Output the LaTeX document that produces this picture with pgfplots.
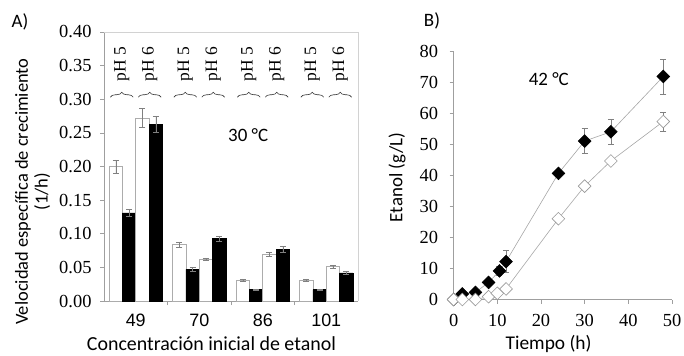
\documentclass[border=0pt]{standalone}
\usepackage{fontspec}
\setmainfont{Liberation Serif}
\newfontfamily\calib{Carlito}
\newfontfamily\arial{Liberation Sans}
\usepackage{pgfplots}
\pgfplotsset{compat=1.18}
\usetikzlibrary{decorations.pathreplacing}
\begin{document}
\begin{tikzpicture}[x=1bp,y=1bp]
\useasboundingbox (0,0) rectangle (684,355);
\node[font=\calib\fontsize{19}{19}\selectfont] at (20,333) {A)};
\node[font=\calib\fontsize{19}{19}\selectfont] at (432,334) {B)};
% ---------------- Panel A ----------------
\begin{axis}[
  at={(104bp,54bp)}, anchor=south west,
  scale only axis, width=254bp, height=269bp,
  xmin=0, xmax=4, ymin=0, ymax=0.40,
  clip=false,
  axis x line*=bottom, axis y line*=left,
  axis line style={gray!75, line width=0.6pt},
  tick align=outside,
  ytick={0,0.05,0.10,0.15,0.20,0.25,0.30,0.35,0.40},
  yticklabel style={font=\fontsize{18.5}{18.5}\selectfont, xshift=-5bp, /pgf/number format/fixed, /pgf/number format/fixed zerofill, /pgf/number format/precision=2, /pgf/number format/assume math mode=true},
  xtick={0.5,1.5,2.5,3.5},
  xticklabels={49,70,86,101},
  xticklabel style={font=\arial\fontsize{18}{18}\selectfont, yshift=-5bp},
  major x tick style={draw=none},
  minor xtick={1,2,3},
  minor tick length=4bp,
  major tick length=4bp,
  tick style={gray!75, line width=0.6pt},
  xlabel={Concentración inicial de etanol},
  xlabel style={font=\calib\fontsize{20}{20}\selectfont, at={(axis description cs:0.423,-0.158)}, anchor=center},
  ylabel={Velocidad específica de crecimiento\\(1/h)},
  ylabel style={align=center, font=\calib\fontsize{18.5}{20}\selectfont, at={(axis description cs:-0.281,0.407)}, anchor=center},
  error bars/y dir=both, error bars/y explicit,
  error bars/error bar style={gray, line width=0.5pt},
  error bars/error mark options={gray, rotate=90, mark size=3bp, line width=0.5pt},
]
\draw[gray!35, line width=0.6pt] (rel axis cs:0,1) -- (rel axis cs:1,1) -- (rel axis cs:1,0);
% white, pH 5
\addplot[ybar, bar width=0.21, bar shift=0pt, fill=white, draw=gray!65, line width=0.8pt]
 coordinates {(0.185,0.200) +- (0,0.010) (1.185,0.084) +- (0,0.004) (2.185,0.031) +- (0,0.002) (3.185,0.031) +- (0,0.002)};
% black, pH 5
\addplot[ybar, bar width=0.21, bar shift=0pt, fill=black, draw=black]
 coordinates {(0.395,0.131) +- (0,0.005) (1.395,0.047) +- (0,0.003) (2.395,0.017) +- (0,0.001) (3.395,0.017) +- (0,0.001)};
% white, pH 6
\addplot[ybar, bar width=0.21, bar shift=0pt, fill=white, draw=gray!65, line width=0.8pt]
 coordinates {(0.605,0.272) +- (0,0.014) (1.605,0.062) +- (0,0.002) (2.605,0.070) +- (0,0.003) (3.605,0.051) +- (0,0.002)};
% black, pH 6
\addplot[ybar, bar width=0.21, bar shift=0pt, fill=black, draw=black]
 coordinates {(0.815,0.263) +- (0,0.012) (1.815,0.093) +- (0,0.004) (2.815,0.077) +- (0,0.004) (3.815,0.042) +- (0,0.002)};
\pgfplotsinvokeforeach{0,1,2,3}{
  \draw[decorate, decoration={brace, amplitude=5bp}, black!80, line width=0.6pt]
    (axis cs:#1+0.10,0.303) -- (axis cs:#1+0.46,0.303);
  \draw[decorate, decoration={brace, amplitude=5bp}, black!80, line width=0.6pt]
    (axis cs:#1+0.54,0.303) -- (axis cs:#1+0.90,0.303);
  \node[rotate=90, font=\fontsize{17.5}{17.5}\selectfont] at (axis cs:#1+0.28,0.352) {pH 5};
  \node[rotate=90, font=\fontsize{17.5}{17.5}\selectfont] at (axis cs:#1+0.72,0.352) {pH 6};
}
\node[font=\calib\fontsize{19}{19}\selectfont] at (axis cs:2.27,0.247) {30 °C};
\end{axis}
% ---------------- Panel B ----------------
\begin{axis}[
  at={(453.6bp,55.5bp)}, anchor=south west,
  scale only axis, width=218.4bp, height=248.5bp,
  xmin=0, xmax=50, ymin=0, ymax=80,
  clip=false,
  axis x line*=bottom, axis y line*=left,
  axis line style={gray!75, line width=0.6pt},
  tick align=outside,
  major tick length=4bp,
  tick style={gray!75, line width=0.6pt},
  xtick={0,10,20,30,40,50},
  ytick={0,10,20,30,40,50,60,70,80},
  ticklabel style={font=\fontsize{18.5}{18.5}\selectfont, /pgf/number format/assume math mode=true},
  xticklabel style={yshift=-7bp},
  yticklabel style={xshift=-8bp},
  xlabel={Tiempo (h)},
  xlabel style={font=\calib\fontsize{19.5}{19.5}\selectfont, at={(axis description cs:0.435,-0.18)}, anchor=center},
  ylabel={Etanol (g/L)},
  ylabel style={font=\calib\fontsize{19}{19}\selectfont, at={(axis description cs:-0.259,0.491)}, anchor=center},
  error bars/y dir=both, error bars/y explicit,
  error bars/error bar style={gray, line width=0.5pt},
  error bars/error mark options={gray, rotate=90, mark size=3bp, line width=0.5pt},
]
\addplot[gray!70, line width=0.6pt, mark=square*, mark options={rotate=45, fill=black, draw=black, solid}, mark size=4.5bp]
 coordinates {(0,0) +- (0,0) (2,1.8) +- (0,0.5) (5,2.3) +- (0,0.5) (8,5.5) +- (0,1) (10.5,9.2) +- (0,1.5) (12,12.2) +- (0,3.5) (24,40.6) +- (0,1) (30,51) +- (0,4) (36,54) +- (0,3.9) (48,71.8) +- (0,5.6)};
\addplot[gray!70, line width=0.6pt, mark=square*, mark options={rotate=45, fill=white, draw=gray!80, solid}, mark size=4.5bp]
 coordinates {(0,0) +- (0,0) (2,0) +- (0,0) (5,0) +- (0,0) (8,0.9) +- (0,0) (10,2) +- (0,0) (12,3.4) +- (0,0.5) (24,26) +- (0,1) (30,36.5) +- (0,1) (36,44.6) +- (0,1) (48,57.3) +- (0,3)};
\node[font=\calib\fontsize{19}{19}\selectfont] at (axis cs:21.8,71) {42 °C};
\end{axis}
\end{tikzpicture}
\end{document}
